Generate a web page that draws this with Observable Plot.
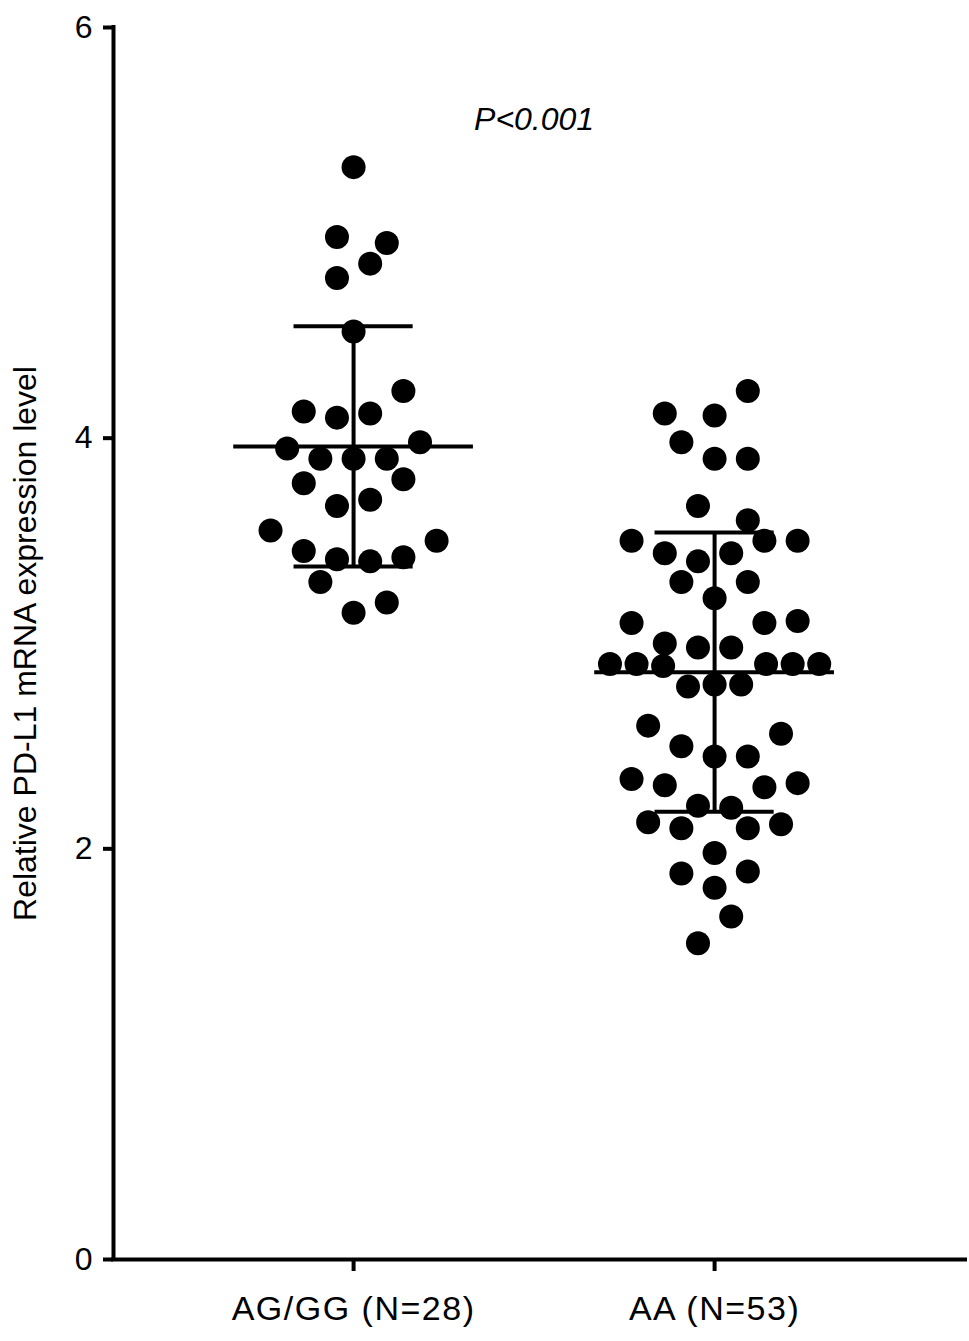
<!DOCTYPE html>
<html>
<head>
<meta charset="utf-8">
<script src="https://cdn.jsdelivr.net/npm/d3@7"></script>
<script src="https://cdn.jsdelivr.net/npm/@observablehq/plot@0.6"></script>
<style>
  html, body { margin: 0; padding: 0; background: #fff; }
  #chart { width: 969px; height: 1341px; }
  g[aria-label="x-axis tick label"] text { letter-spacing: 1.5px; }
</style>
</head>
<body>
<div id="chart"></div>
<script>
// ---- Data ----
const groups = ["AG/GG (N=28)", "AA (N=53)"];

const agggValues = [5.32,4.98,4.95,4.85,4.78,4.52,4.23,4.13,4.10,4.12,3.95,3.98,3.90,3.90,3.90,3.78,3.80,3.67,3.70,3.55,3.45,3.41,3.40,3.42,3.50,3.30,3.20,3.15];
// column (swarm slot) of each dot within its group
const agggSlots  = [0,-1,2,1,-1,0,3,-3,-1,1,-4,4,-2,0,2,-3,3,-1,1,-5,-3,-1,1,3,5,-2,2,0];

const aaValues = [4.23,4.12,4.11,3.98,3.90,3.90,3.67,3.60,3.50,3.44,3.40,3.44,3.50,3.50,3.30,3.30,3.22,3.10,3.10,3.11,3.00,2.98,2.98,2.90,2.90,2.89,2.90,2.90,2.90,2.79,2.80,2.80,2.60,2.56,2.50,2.45,2.45,2.34,2.31,2.30,2.32,2.21,2.20,2.13,2.10,2.10,2.12,1.98,1.88,1.89,1.81,1.67,1.54];
const aaSlots  = [2,-3,0,-2,0,2,-1,2,-5,-3,-1,1,3,5,-2,2,0,-5,3,5,-3,-1,1,-6.3,-4.7,-3.1,3.1,4.7,6.3,-1.6,0,1.6,-4,4,-2,0,2,-5,-3,3,5,-1,1,-4,-2,2,4,0,-2,2,0,1,-1];

const means = [3.96, 2.86];
const sds   = [0.585, 0.68];

const yTicks = [0, 2, 4, 6];
const yLabel = "Relative PD-L1 mRNA expression level";
const pLabel = "P<0.001";

// ---- Build tables ----
const SLOT = 0.046;        // spacing between swarm columns (x units)
const MEAN_HALF = 0.332;   // half width of mean line
const CAP_HALF = 0.165;    // half width of SD caps
const xDomain = [0.335, 2.695];

const points = [
  ...agggValues.map((v, i) => ({gi: 1, value: v, slot: agggSlots[i]})),
  ...aaValues.map((v, i) => ({gi: 2, value: v, slot: aaSlots[i]}))
];
const stats = means.map((m, i) => ({gi: i + 1, mean: m, lo: m - sds[i], hi: m + sds[i]}));

const font = "'Liberation Sans', Arial, Helvetica, sans-serif";

const chart = Plot.plot({
  width: 969,
  height: 1341,
  marginLeft: 113,
  marginRight: 4,
  marginTop: 27,
  marginBottom: 82,
  style: {fontFamily: font, fontSize: "32px", color: "black", background: "white"},
  x: {type: "linear", domain: xDomain},
  y: {domain: [0, 6]},
  marks: [
    Plot.axisY({ticks: yTicks, tickFormat: d => String(d), tickSize: 10, tickPadding: 11, strokeWidth: 4, fontSize: 32, label: null}),
    Plot.axisX({ticks: [1, 2], tickFormat: d => groups[d - 1], tickSize: 12, tickPadding: 24, strokeWidth: 4, fontSize: 34, label: null}),
    Plot.ruleX([xDomain[0]], {strokeWidth: 4, strokeLinecap: "square"}),
    Plot.ruleY([0], {strokeWidth: 4, strokeLinecap: "square"}),
    Plot.text([yLabel], {frameAnchor: "left", textAnchor: "middle", rotate: -90, dx: -88, fontSize: 32}),
    Plot.dot(points, {x: d => d.gi + d.slot * SLOT, y: "value", r: 12, fill: "black", stroke: "none"}),
    Plot.ruleY(stats, {y: "mean", x1: d => d.gi - MEAN_HALF, x2: d => d.gi + MEAN_HALF, strokeWidth: 4}),
    Plot.ruleY(stats, {y: "hi", x1: d => d.gi - CAP_HALF, x2: d => d.gi + CAP_HALF, strokeWidth: 4}),
    Plot.ruleY(stats, {y: "lo", x1: d => d.gi - CAP_HALF, x2: d => d.gi + CAP_HALF, strokeWidth: 4}),
    Plot.ruleX(stats, {x: "gi", y1: "lo", y2: "hi", strokeWidth: 4}),
    Plot.text([pLabel], {x: 1.5, y: 5.55, fontStyle: "italic", fontSize: 32})
  ]
});
document.getElementById("chart").appendChild(chart);
</script>
</body>
</html>
